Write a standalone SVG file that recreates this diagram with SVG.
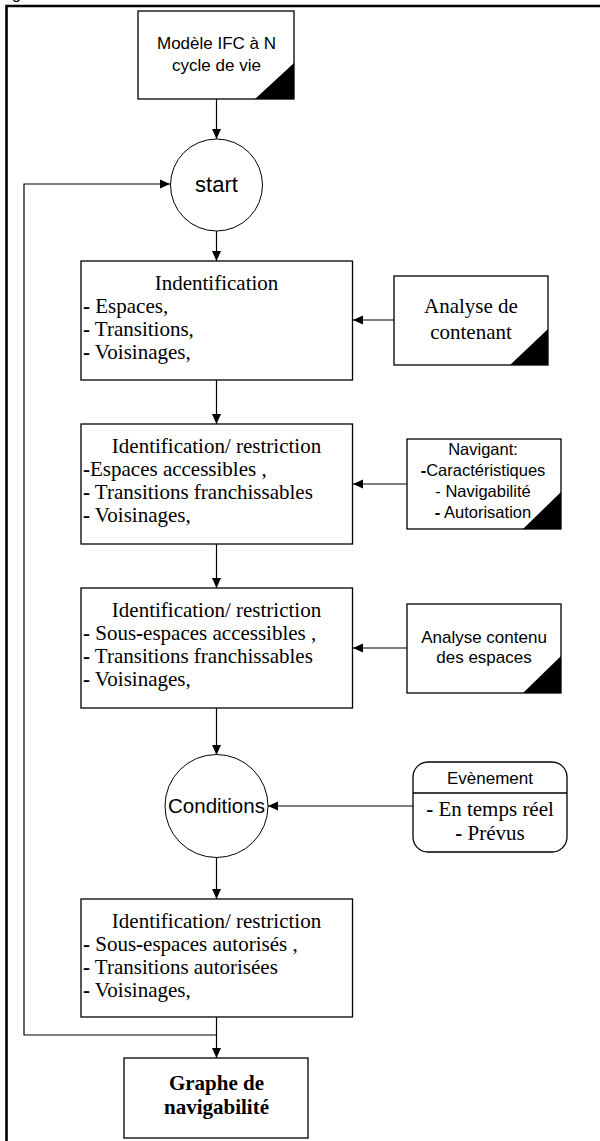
<svg xmlns="http://www.w3.org/2000/svg" width="600" height="1141" viewBox="0 0 600 1141">
<style>
.box{fill:#fff;stroke:#000;stroke-width:1.3}
.circ{fill:#fff;stroke:#000;stroke-width:1}
.tri{fill:#000}
.con{fill:none;stroke:#000;stroke-width:1.2}
.ar{font-family:"Liberation Sans",Arial,sans-serif;fill:#000}
.tm{font-family:"Liberation Serif","Times New Roman",serif;fill:#000;font-size:21px}
.b{font-weight:bold}
</style>
<defs>
<marker id="ah" markerWidth="10" markerHeight="10" refX="10" refY="5" orient="auto" markerUnits="userSpaceOnUse">
<path d="M0,0.5 L10,5 L0,9.5 Z" fill="#000"/>
</marker>
</defs>
<rect x="0" y="0" width="600" height="1141" fill="#fff"/>
<text class="ar" x="12" y="-1" font-size="16">g</text>
<path d="M6.5,1141 V6 H600" fill="none" stroke="#000" stroke-width="2.6"/>

<g id="connectors">
<line class="con" x1="216.5" y1="99" x2="216.5" y2="139" marker-end="url(#ah)"/>
<polyline class="con" points="216.5,1035 24,1035 24,184 170,184" marker-end="url(#ah)"/>
<line class="con" x1="216.5" y1="231" x2="216.5" y2="261" marker-end="url(#ah)"/>
<line class="con" x1="394" y1="320" x2="353" y2="320" marker-end="url(#ah)"/>
<line class="con" x1="216.5" y1="380" x2="216.5" y2="424" marker-end="url(#ah)"/>
<line class="con" x1="407" y1="484" x2="353" y2="484" marker-end="url(#ah)"/>
<line class="con" x1="216.5" y1="544" x2="216.5" y2="588" marker-end="url(#ah)"/>
<line class="con" x1="407" y1="648" x2="353" y2="648" marker-end="url(#ah)"/>
<line class="con" x1="216.5" y1="708" x2="216.5" y2="755" marker-end="url(#ah)"/>
<line class="con" x1="413" y1="806" x2="268" y2="806" marker-end="url(#ah)"/>
<line class="con" x1="216.5" y1="857" x2="216.5" y2="899" marker-end="url(#ah)"/>
<line class="con" x1="216.5" y1="1017" x2="216.5" y2="1058" marker-end="url(#ah)"/>
</g>

<g id="ifc">
<rect class="box" x="138" y="11" width="156" height="88"/>
<polygon class="tri" points="255,99 294,99 294,63"/>
<text class="ar" font-size="17" text-anchor="middle" x="216.5" y="49">Modèle IFC à N</text>
<text class="ar" font-size="17" text-anchor="middle" x="216.5" y="71">cycle de vie</text>
</g>

<g id="start">
<circle class="circ" cx="216.5" cy="185" r="46"/>
<text class="ar" font-size="22" text-anchor="middle" x="216.5" y="192">start</text>
</g>

<g id="box1">
<rect class="box" x="81" y="261" width="271.5" height="119"/>
<text class="tm" text-anchor="middle" x="216.5" y="290">Indentification</text>
<text class="tm" x="83" y="313"><tspan class="b">-</tspan> Espaces,</text>
<text class="tm" x="83" y="336"><tspan class="b">-</tspan> Transitions,</text>
<text class="tm" x="83" y="359"><tspan class="b">-</tspan> Voisinages,</text>
</g>

<g id="contenant">
<rect class="box" x="394" y="276" width="154" height="89"/>
<polygon class="tri" points="510,365 548,365 548,329"/>
<text class="tm" text-anchor="middle" x="471" y="313">Analyse de</text>
<text class="tm" text-anchor="middle" x="471" y="339">contenant</text>
</g>

<g id="box2">
<rect class="box" x="81" y="424" width="271.5" height="120"/>
<text class="tm" text-anchor="middle" x="216.5" y="453">Identification/ restriction</text>
<text class="tm" x="83" y="476"><tspan class="b">-</tspan>Espaces accessibles ,</text>
<text class="tm" x="83" y="499"><tspan class="b">-</tspan> Transitions franchissables</text>
<text class="tm" x="83" y="522"><tspan class="b">-</tspan> Voisinages,</text>
</g>

<g id="navigant">
<rect class="box" x="407" y="439" width="154" height="90"/>
<polygon class="tri" points="523,529 561,529 561,492"/>
<text class="ar" font-size="16.5" text-anchor="middle" x="483" y="455">Navigant:</text>
<text class="ar" font-size="16.5" text-anchor="middle" x="483" y="476"><tspan class="b">-</tspan>Caractéristiques</text>
<text class="ar" font-size="16.5" text-anchor="middle" x="483" y="497">- Navigabilité</text>
<text class="ar" font-size="16.5" text-anchor="middle" x="483" y="518"><tspan class="b">-</tspan> Autorisation</text>
</g>

<g id="box3">
<rect class="box" x="81" y="588" width="271.5" height="120"/>
<text class="tm" text-anchor="middle" x="216.5" y="617">Identification/ restriction</text>
<text class="tm" x="83" y="640"><tspan class="b">-</tspan> Sous<tspan class="b">-</tspan>espaces accessibles ,</text>
<text class="tm" x="83" y="663"><tspan class="b">-</tspan> Transitions franchissables</text>
<text class="tm" x="83" y="686"><tspan class="b">-</tspan> Voisinages,</text>
</g>

<g id="contenu">
<rect class="box" x="407" y="604" width="154" height="89"/>
<polygon class="tri" points="523,693 561,693 561,656"/>
<text class="ar" font-size="17" text-anchor="middle" x="484" y="643">Analyse contenu</text>
<text class="ar" font-size="17" text-anchor="middle" x="484" y="663">des espaces</text>
</g>

<g id="conditions">
<circle class="circ" cx="216.5" cy="806" r="51.5"/>
<text class="ar" font-size="20.5" text-anchor="middle" x="216.5" y="813">Conditions</text>
</g>

<g id="evenement">
<rect class="box" x="413" y="762" width="154" height="90" rx="15" ry="15"/>
<line class="box" x1="413" y1="793" x2="567" y2="793"/>
<text class="ar" font-size="17" text-anchor="middle" x="490" y="784">Evènement</text>
<text class="tm" text-anchor="middle" x="490" y="816"><tspan class="b">-</tspan> En temps réel</text>
<text class="tm" text-anchor="middle" x="490" y="840"><tspan class="b">-</tspan> Prévus</text>
</g>

<g id="box4">
<rect class="box" x="81" y="899" width="271.5" height="118"/>
<text class="tm" text-anchor="middle" x="216.5" y="928">Identification/ restriction</text>
<text class="tm" x="83" y="951"><tspan class="b">-</tspan> Sous<tspan class="b">-</tspan>espaces autorisés  ,</text>
<text class="tm" x="83" y="974"><tspan class="b">-</tspan> Transitions autorisées</text>
<text class="tm" x="83" y="997"><tspan class="b">-</tspan> Voisinages,</text>
</g>

<g id="graphe">
<rect class="box" x="124" y="1058" width="184" height="80"/>
<text class="tm b" font-size="22" text-anchor="middle" x="216.5" y="1090">Graphe de</text>
<text class="tm b" font-size="22" text-anchor="middle" x="216.5" y="1114">navigabilité</text>
</g>
</svg>
